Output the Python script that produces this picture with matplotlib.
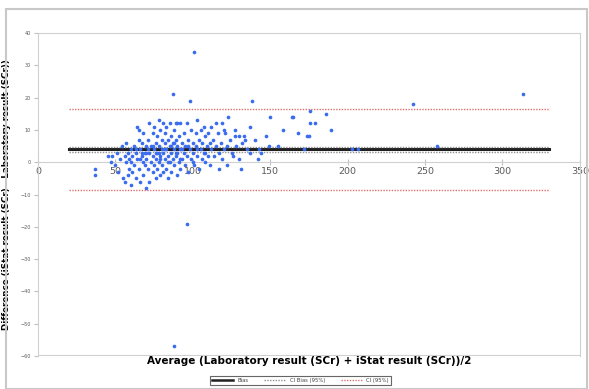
import matplotlib.pyplot as plt
import matplotlib.lines as mlines
from matplotlib.patches import Rectangle

# Bland-Altman data: average of both methods vs difference (iStat - Lab)
points = [
    (37, -2), (37, -4), (45, 2), (47, 0), (48, 2),
    (50, -1), (51, 3), (52, -3), (53, 1), (54, 5), (55, -5), (56, -6), (56, 2),
    (57, 0), (57, 6), (58, -4), (58, 3), (59, 1), (59, -2), (60, 4), (60, -7),
    (60, 0), (61, 2), (61, -3), (62, 5), (62, -1), (63, 3), (63, -5), (64, 11),
    (64, 1), (65, 7), (65, -2), (65, 10), (66, 4), (66, -6), (67, 2), (67, 6),
    (68, 0), (68, -4), (68, 9), (69, 3), (69, -1), (70, 5), (70, -8), (70, 1),
    (71, 7), (71, -2), (72, 3), (72, 12), (72, -6), (73, 0), (73, 5), (74, 9),
    (74, 2), (74, -3), (75, 11), (75, 4), (75, -1), (76, 6), (76, 1), (76, -5),
    (77, 8), (77, 3), (77, -2), (78, 13), (78, 5), (78, 0), (79, 10), (79, 2),
    (79, -4), (80, 7), (80, 4), (80, -1),
    (81, 12), (81, 3), (81, -3), (82, 6), (82, 1), (82, 9), (83, 4), (83, -2),
    (83, 11), (84, 7), (84, 2), (84, -5), (85, 5), (85, 0), (85, 12), (86, 3),
    (86, 8), (86, -3), (87, 21), (87, 6), (87, 1), (88, -57), (88, 4), (88, 10),
    (88, -1), (89, 12), (89, 2), (89, 7), (90, -4), (90, 5), (90, 3), (90, 12),
    (91, 0), (91, 8), (92, 4), (92, -2), (92, 12), (93, 6), (93, 1), (94, 3),
    (94, 9), (95, -1), (95, 5), (96, -19), (96, 12), (96, 2), (97, 7), (97, -3),
    (98, 4), (98, 19), (99, 10), (99, 1), (100, 6), (100, 3),
    (101, 34), (101, -1), (102, 5), (102, 9), (103, 13), (103, 2), (104, 7),
    (104, -2), (105, 4), (105, 10), (106, 1), (106, 6), (107, 3), (107, 11),
    (108, 8), (108, 0), (109, 5), (110, 2), (110, 9),
    (111, 6), (111, -1), (112, 4), (112, 11), (113, 7), (114, 2), (115, 12),
    (115, 5), (116, 9), (117, 3), (117, -2), (118, 6), (119, 12), (119, 1),
    (120, 10), (120, 4), (121, 9), (122, -1), (122, 5),
    (123, 14), (124, 7), (125, 3), (126, 2), (127, 10), (127, 8), (128, 5),
    (130, 8), (130, 1), (131, -2), (132, 6), (133, 8), (134, 7), (135, 4),
    (137, 11), (137, 3), (138, 19), (140, 7),
    (142, 1), (143, 4), (144, 3), (147, 8), (149, 5), (150, 14), (155, 5),
    (158, 10), (164, 14), (165, 14), (168, 9), (172, 4), (174, 8), (175, 8),
    (176, 12), (176, 16), (179, 12), (186, 15), (189, 10), (203, 4), (207, 4),
    (242, 18), (258, 5), (313, 21),
    (63, 4), (67, 3), (71, 4), (74, 5), (78, 3), (82, 4), (86, 5), (89, 3),
    (93, 4), (97, 5), (103, 4), (108, 3), (66, 1), (79, 1), (84, 0), (92, 1),
    (100, 0), (76, 3), (70, 3), (88, 6),
]
avg = [p[0] for p in points]
diff = [p[1] for p in points]

bias = 4.0
ci_bias = [3.2, 4.8]
ci_limits = [16.6, -8.7]
line_x = [20, 330]

fig = plt.figure(figsize=(5.89, 3.89), dpi=100)
fig.patches.append(Rectangle((0.011, 0.0), 0.985, 0.978, transform=fig.transFigure,
                             fill=False, edgecolor='#c8c8c8', linewidth=1.5))
ax = fig.add_axes([0.0645, 0.085, 0.92, 0.83])

ax.scatter(avg, diff, s=7, color='#3a6cf0', zorder=3, linewidths=0)

ax.plot(line_x, [bias, bias], color='#202020', linewidth=2.2, zorder=2)
for v in ci_bias:
    ax.plot(line_x, [v, v], color='#909090', linewidth=1.0, linestyle=(0, (1, 1)), zorder=2)
for v in ci_limits:
    ax.plot(line_x, [v, v], color='#e07070', linewidth=1.0, linestyle=(0, (1, 1)), zorder=2)

ax.set_xlim(0, 350)
ax.set_ylim(-60, 40)
ax.set_xticks(range(0, 351, 50))
ax.set_yticks(range(-60, 41, 10))

for s in ['top', 'right', 'left']:
    ax.spines[s].set_color('#d0d0d0')
ax.spines['bottom'].set_position(('data', 0))
ax.spines['bottom'].set_color('#d0d0d0')
ax.axhline(-60, color='#d0d0d0', linewidth=1.5)

ax.tick_params(axis='x', direction='inout', length=5, color='#c0c0c0',
               labelsize=6.8, labelcolor='#595959', pad=1)
ax.tick_params(axis='y', direction='out', length=3, color='#c0c0c0',
               labelsize=3.5, labelcolor='#595959', pad=2)

ax.set_ylabel('Difference (iStat result (SCr) - Laboratory result (SCr))',
              fontsize=6.3, fontweight='bold', labelpad=7)
fig.text(0.525, 0.072, 'Average (Laboratory result (SCr) + iStat result (SCr))/2',
         ha='center', va='center', fontsize=7.5, fontweight='bold')

handles = [
    mlines.Line2D([], [], color='#202020', linewidth=1.8, label='Bias'),
    mlines.Line2D([], [], color='#909090', linewidth=1.0, linestyle=(0, (1, 1)), label='CI Bias (95%)'),
    mlines.Line2D([], [], color='#e07070', linewidth=1.0, linestyle=(0, (1, 1)), label='CI (95%)'),
]
leg = fig.legend(handles=handles, loc='center', bbox_to_anchor=(0.51, 0.022), ncol=3,
                 fontsize=3.8, frameon=True, fancybox=False, edgecolor='#404040',
                 handlelength=4, columnspacing=3, borderpad=0.4)
leg.get_frame().set_linewidth(0.8)
for t in leg.get_texts():
    t.set_color('#404040')

fig.savefig('out.png', dpi=100)
